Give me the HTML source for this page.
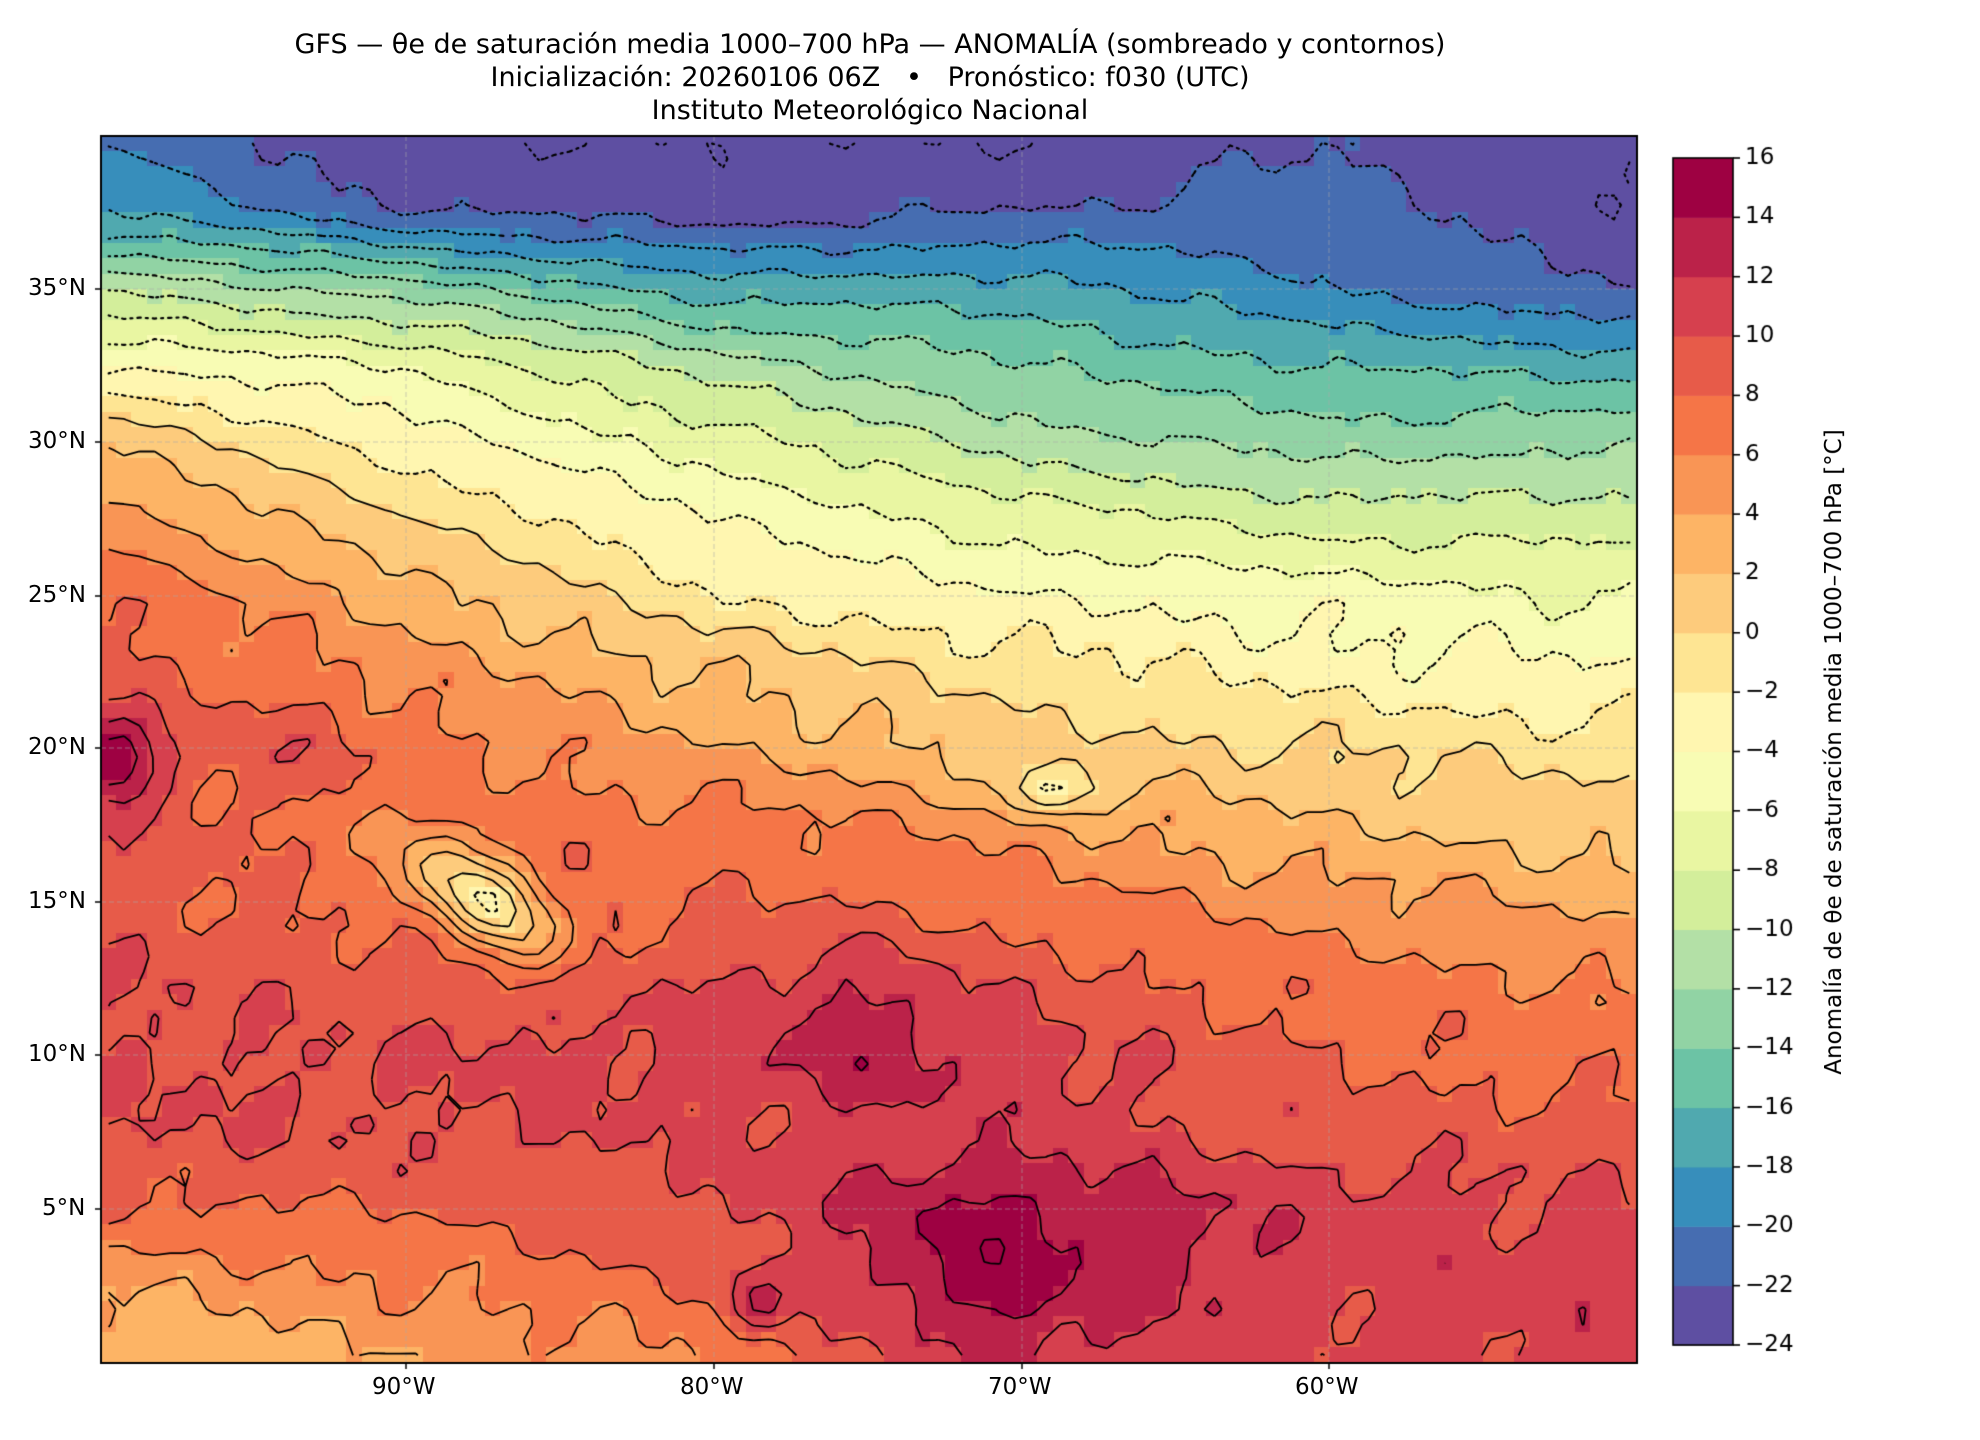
<!DOCTYPE html>
<html><head><meta charset="utf-8">
<style>
body{margin:0;background:#fff;width:1980px;height:1440px;position:relative;overflow:hidden;font-family:"DejaVu Sans","Liberation Sans",sans-serif;color:#000}
.t{position:absolute;left:0;width:1740px;text-align:center;font-size:27px;line-height:32px;white-space:nowrap}
.tk{position:absolute;font-size:23px}
</style></head><body>
<div class="t" style="top:29px">GFS — θe de saturación media 1000–700 hPa — ANOMALÍA (sombreado y contornos)</div>
<div class="t" style="top:62px">Inicialización: 20260106 06Z &nbsp; • &nbsp; Pronóstico: f030 (UTC)</div>
<div class="t" style="top:95px">Instituto Meteorológico Nacional</div>
<canvas id="c" width="1980" height="1440" style="position:absolute;left:0;top:0"></canvas>
<div class="tk" style="left:372px;top:1374px">90°W</div>
<div class="tk" style="left:680px;top:1374px">80°W</div>
<div class="tk" style="left:988px;top:1374px">70°W</div>
<div class="tk" style="left:1295px;top:1374px">60°W</div>
<div class="tk" style="left:28px;top:275px">35°N</div>
<div class="tk" style="left:28px;top:428px">30°N</div>
<div class="tk" style="left:28px;top:582px">25°N</div>
<div class="tk" style="left:28px;top:734px">20°N</div>
<div class="tk" style="left:28px;top:888px">15°N</div>
<div class="tk" style="left:28px;top:1041px">10°N</div>
<div class="tk" style="left:42px;top:1195px">5°N</div>
<div style="position:absolute;left:1834px;top:752px;transform:translate(-50%,-50%) rotate(-90deg);font-size:23px;white-space:nowrap">Anomalía de θe de saturación media 1000–700 hPa [°C]</div>
<script>
const cols=["#5e4fa2","#466db1","#378ebb","#50a9af","#6cc3a5","#91d3a4","#b3e0a6","#d3ee9b","#e9f6a2","#f8fcb4","#fff6b0","#fee593","#fdcb7c","#fdb465","#f99555","#f57547","#e75b49","#d6404e","#bb2249","#9e0142"];
const X0=101,X1=1637,Y0=136,Y1=1363;
const V=[[-20,-24,-24,-24,-22,-24],[-18,-22,-23,-22,-21,-24],[-10,-13,-17,-17,-20,-22],[-4,-6,-11,-14,-16,-17],[2,-3,-7,-11,-13,-12],[5,0,-4,-7,-9,-9],[8,3,-2,-4,-5,-6],[9,5,2,-1,-3,-4],[10,7,4,1,0,-1],[9,7,7,5,2,1],[9,7,8,7,5,3],[10,9,10,9,7,6],[10,10,11,11,8,7],[10,10,10,11,9,9],[8,8,10,14,11,10],[4,6,8,14,11,11],[2,4,6,12,10,11]];
function base(lo,la){let i=(lo+100)/10;i=Math.max(0,Math.min(4.999,i));let i0=Math.floor(i),fx=i-i0;
let j=(40-la)/2.5;j=Math.max(0,Math.min(15.999,j));let j0=Math.floor(j),fy=j-j0;
const a=V[j0][i0]*(1-fx)+V[j0][i0+1]*fx,b=V[j0+1][i0]*(1-fx)+V[j0+1][i0+1]*fx;return a*(1-fy)+b*fy;}
function g(lo,la,x,y,s,a){return a*Math.exp(-((lo-x)**2+(la-y)**2)/(2*s*s));}
function ge(lo,la,x,y,sx,sy,a){return a*Math.exp(-((lo-x)**2/(2*sx*sx)+(la-y)**2/(2*sy*sy)));}
function f(lo,la){let v=base(lo,la);
const u=(lo+87.5)*0.8+(la-15)*(-0.6), w=(lo+87.5)*0.6+(la-15)*0.8;
v+=-9*Math.exp(-(u*u)/(2*2.2*2.2)-(w*w)/(2*0.9*0.9));
v+=g(lo,la,-75,11,2.2,2.5)+g(lo,la,-99.5,19.5,1,6)+g(lo,la,-93,20.5,1.3,1.5)+g(lo,la,-72,3,2,2)+ge(lo,la,-69,18.7,1.2,0.6,-5)+g(lo,la,-78.5,2,0.8,4);
const nf=la>25?0.5:1;
v+=nf*(0.7*Math.sin(lo*0.9+la*0.7)*Math.cos(la*0.8-lo*0.4)+0.4*Math.sin(lo*2.1-la*1.7))+0.15*Math.sin(lo*4.3+la*3.1);
return v;}
const c=document.getElementById('c').getContext('2d');
const NX=100,NY=80,dx=(X1-X0)/NX,dy=(Y1-Y0)/NY;
const F=[];
for(let j=0;j<NY;j++){F.push([]);for(let i=0;i<NX;i++){const lo=-100+(i+.5)*.5,la=40-(j+.5)*.5;F[j].push(f(lo,la));}}
for(let j=0;j<NY;j++)for(let i=0;i<NX;i++){let k=Math.floor((F[j][i]+24)/2);k=Math.max(0,Math.min(19,k));c.fillStyle=cols[k];c.fillRect(Math.floor(X0+i*dx),Math.floor(Y0+j*dy),Math.ceil(dx)+1,Math.ceil(dy)+1);}
c.save();c.beginPath();c.rect(X0,Y0,X1-X0,Y1-Y0);c.clip();
c.strokeStyle="rgba(170,170,170,0.6)";c.lineWidth=1;c.setLineDash([5,3]);
const XT=[406,714,1022,1329],YT=[289,442,596,748,902,1055,1209];
XT.forEach(x=>{c.beginPath();c.moveTo(x,Y0);c.lineTo(x,Y1);c.stroke();});
YT.forEach(y=>{c.beginPath();c.moveTo(X0,y);c.lineTo(X1,y);c.stroke();});
c.strokeStyle="#000";
function px(i){return X0+(i+.5)*dx;}function py(j){return Y0+(j+.5)*dy;}
for(let L=-24;L<=16;L+=2){
 if(L<0){c.setLineDash([2,5]);c.lineWidth=2.2;c.lineCap="round";}else{c.setLineDash([]);c.lineWidth=1.8;c.lineCap="butt";}
 c.beginPath();
 for(let j=0;j<NY-1;j++)for(let i=0;i<NX-1;i++){
  const a=F[j][i],b=F[j][i+1],d=F[j+1][i],e=F[j+1][i+1];
  const pts=[];
  function it(v1,v2,x1,y1,x2,y2){if((v1<L)!==(v2<L)){const t=(L-v1)/(v2-v1);pts.push([x1+(x2-x1)*t,y1+(y2-y1)*t]);}}
  it(a,b,px(i),py(j),px(i+1),py(j));it(b,e,px(i+1),py(j),px(i+1),py(j+1));
  it(e,d,px(i+1),py(j+1),px(i),py(j+1));it(d,a,px(i),py(j+1),px(i),py(j));
  for(let k=0;k+1<pts.length;k+=2){c.moveTo(pts[k][0],pts[k][1]);c.lineTo(pts[k+1][0],pts[k+1][1]);}
 }
 c.stroke();
}
c.restore();
c.setLineDash([]);c.lineWidth=2;c.strokeStyle="#000";c.strokeRect(X0,Y0,X1-X0,Y1-Y0);
const CX=1673,CW=60,CY0=158,CY1=1345,h=(CY1-CY0)/20;
for(let k=0;k<20;k++){c.fillStyle=cols[k];c.fillRect(CX,CY1-(k+1)*h,CW,h+0.5);}
c.lineWidth=1.6;c.strokeRect(CX,CY0,CW,CY1-CY0);
c.font='23px "DejaVu Sans","Liberation Sans",sans-serif';c.fillStyle="#000";c.textBaseline="middle";
for(let k=0;k<=20;k++){const y=CY1-k*h;c.beginPath();c.moveTo(CX+CW,y);c.lineTo(CX+CW+7,y);c.stroke();const v=-24+2*k;c.fillText((v<0?"\u2212":"")+Math.abs(v),CX+CW+12,y);}
c.lineWidth=1.5;
XT.forEach(x=>{c.beginPath();c.moveTo(x,Y1);c.lineTo(x,Y1+6);c.stroke();});
YT.forEach(y=>{c.beginPath();c.moveTo(X0,y);c.lineTo(X0-6,y);c.stroke();});
</script>
</body></html>
